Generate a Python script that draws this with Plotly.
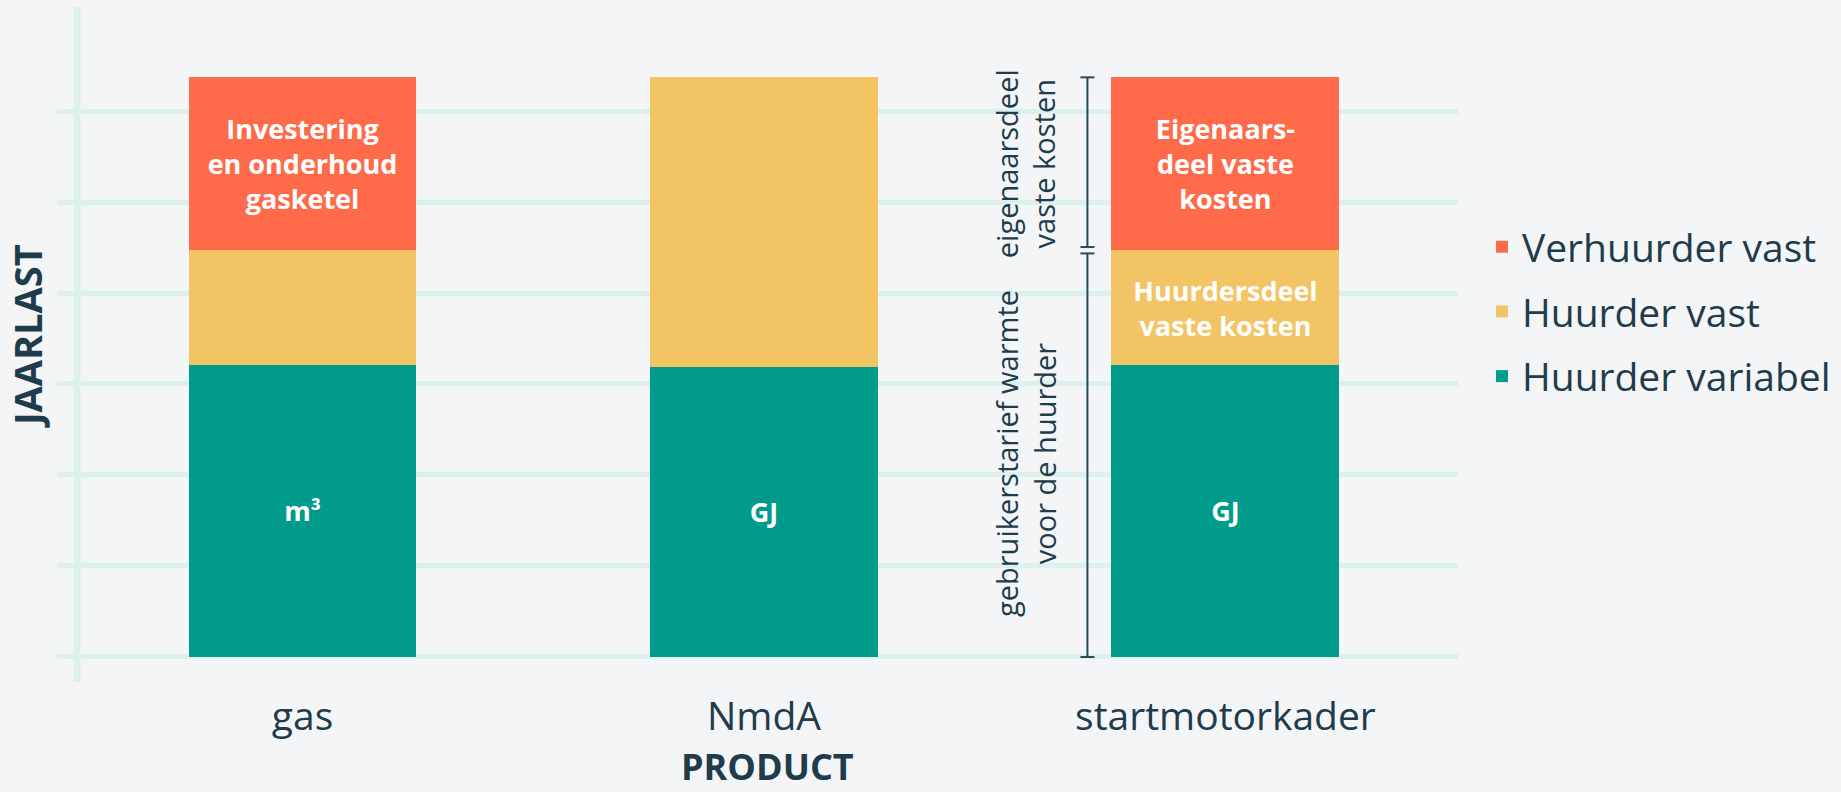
import plotly.graph_objects as go

# ---- data ----
categories = ["gas", "NmdA", "startmotorkader"]
huurder_variabel = [3.21, 3.19, 3.21]
huurder_vast = [1.26, 3.18, 1.26]
verhuurder_vast = [1.90, 0.0, 1.90]

series_names = ["Huurder variabel", "Huurder vast", "Verhuurder vast"]
legend_ranks = [3, 2, 1]
text_variabel = ["m³", "GJ", "GJ"]
text_huurder_vast = ["", "", "Huurdersdeel<br>vaste kosten"]
text_verhuurder_vast = ["Investering<br>en onderhoud<br>gasketel", "", "Eigenaars-<br>deel vaste<br>kosten"]

y_ticks = [0, 1, 2, 3, 4, 5, 6]
bracket_labels = ["eigenaarsdeel<br>vaste kosten", "gebruikerstarief warmte<br>voor de huurder"]
x_title = "PRODUCT"
y_title = "JAARLAST"

# ---- styles ----
BG = "#f4f5f7"
GRID = "#dcf0ec"
TXT = "#1e3c4b"
COLORS = ["#009b8a", "#f3c463", "#ff6b4a"]
FONT = "Open Sans"

fig = go.Figure()
for name, vals, txt, col, rank in zip(series_names,
                                       [huurder_variabel, huurder_vast, verhuurder_vast],
                                       [text_variabel, text_huurder_vast, text_verhuurder_vast],
                                       COLORS, legend_ranks):
    fig.add_trace(go.Bar(
        x=categories, y=vals, name=name, text=txt,
        marker=dict(color=col, line=dict(width=0)),
        textposition="inside", insidetextanchor="middle", textangle=0,
        constraintext="none",
        textfont=dict(family=FONT, size=27, color="white", weight=700),
        legendgroup=name, legendrank=rank, hoverinfo="x+y+name",
    ))

# bracket next to the last bar
idx = 2
total = huurder_variabel[idx] + huurder_vast[idx] + verhuurder_vast[idx]
split = huurder_variabel[idx] + huurder_vast[idx]
gap = 0.035
bx = -138
line = dict(color="#2b4a55", width=2)
shapes = [
    # vertical axis line
    dict(type="line", xref="paper", yref="paper", x0=0.0143, x1=0.0143, y0=0, y1=1,
         line=dict(color=GRID, width=7), layer="below"),
    dict(type="line", xref="x", yref="y", xsizemode="pixel", xanchor=idx,
         x0=bx, x1=bx, y0=split + gap, y1=total, line=line),
    dict(type="line", xref="x", yref="y", xsizemode="pixel", xanchor=idx,
         x0=bx, x1=bx, y0=0, y1=split - gap, line=line),
]
for yv in [total, split + gap, split - gap, 0]:
    shapes.append(dict(type="line", xref="x", yref="y", xsizemode="pixel", xanchor=idx,
                       x0=bx - 7, x1=bx + 7, y0=yv, y1=yv, line=line))

annotations = [
    dict(x=idx, y=(split + total) / 2, xref="x", yref="y", xshift=-200,
         text=bracket_labels[0], textangle=-90, showarrow=False,
         font=dict(family=FONT, size=29, color=TXT)),
    dict(x=idx, y=split / 2, xref="x", yref="y", xshift=-200,
         text=bracket_labels[1], textangle=-90, showarrow=False,
         font=dict(family=FONT, size=29, color=TXT)),
    # axis titles
    dict(x=0.5068, y=-0.1259, xref="paper", yref="paper", xanchor="center", yanchor="middle",
         text=x_title, showarrow=False,
         font=dict(family=FONT, size=36, color=TXT, weight=700)),
    dict(x=-0.0214, y=0.5126, xref="paper", yref="paper", xanchor="center", yanchor="middle",
         text=y_title, textangle=-90, showarrow=False,
         font=dict(family=FONT, size=38, color=TXT, weight=700)),
]

fig.update_layout(
    barmode="stack",
    bargap=0.506,
    width=1841, height=792,
    margin=dict(l=57, r=383, t=7, b=110, autoexpand=False),
    paper_bgcolor=BG, plot_bgcolor=BG,
    font=dict(family=FONT, color=TXT),
    shapes=shapes,
    annotations=annotations,
    legend=dict(
        x=1.0171, xanchor="left", y=0.692, yanchor="top",
        font=dict(family=FONT, size=39, color=TXT),
        traceorder="grouped", tracegroupgap=11,
        bgcolor="rgba(0,0,0,0)",
    ),
    xaxis=dict(
        type="category", range=[-0.532, 2.504], automargin=False,
        showgrid=False, showline=False, zeroline=False, ticks="",
        ticklabelstandoff=8,
        tickfont=dict(family=FONT, size=39, color=TXT),
    ),
    yaxis=dict(
        range=[-0.275, 7.143], automargin=False,
        tickvals=y_ticks, showticklabels=False, ticks="",
        showgrid=True, gridcolor=GRID, gridwidth=5,
        zeroline=False, showline=False,
    ),
)

fig.write_html(
    "out.html",
    config={"displayModeBar": False},
    post_script="document.body.style.margin='0';document.body.style.background='" + BG + "';",
)
